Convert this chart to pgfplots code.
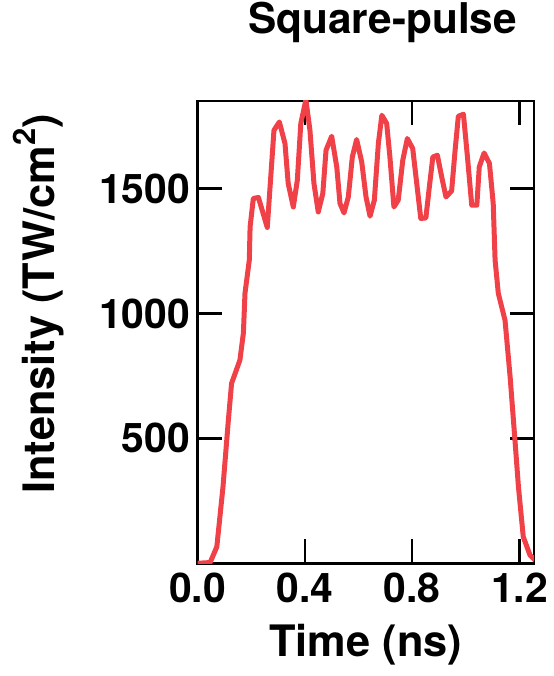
\documentclass[border=0pt]{standalone}
\usepackage{fontspec}
\setmainfont{TeX Gyre Heros}
\usepackage{pgfplots}
\pgfplotsset{compat=1.18}
\definecolor{pulsered}{RGB}{240,64,72}
\begin{document}
\begin{tikzpicture}
\path[use as bounding box] (0,0) rectangle (554bp,676bp);
\begin{axis}[
  at={(197.5bp,112.7bp)}, anchor=south west,
  scale only axis, width=336.5bp, height=462.3bp,
  xmin=0, xmax=1.254, ymin=0, ymax=1850,
  xtick={0,0.4,0.8,1.2}, ytick={500,1000,1500},
  xticklabels={0.0,0.4,0.8,1.2},
  yticklabels={500,1000,1500},
  tick align=inside, major tick length=24bp,
  every tick/.style={line width=2.5bp, black},
  axis line style={line width=2.5bp},
  tick label style={font=\fontsize{41}{45}\selectfont\bfseries},
  /pgf/number format/assume math mode=true,
  xticklabel style={yshift=-6bp},
  yticklabel style={xshift=-4bp},
  xlabel={Time (ns)},
  ylabel={Intensity (TW/cm\raisebox{0.42em}{\fontsize{31}{31}\selectfont 2})},
  label style={font=\fontsize{43.5}{47}\selectfont\bfseries},
  xlabel style={at={(axis description cs:0.5,-0.202)}, anchor=base},
  ylabel style={at={(axis description cs:-0.4725,0.561)}, anchor=center},
  title={Square-pulse},
  title style={font=\fontsize{42.5}{46}\selectfont\bfseries, at={(axis description cs:0.55,1.132)}, anchor=base},
  clip=true,
]
\addplot[pulsered, line width=5bp, line join=round] coordinates {
(0,0) (0.047,3) (0.072,66) (0.095,306) (0.115,573) (0.127,720)
(0.158,813) (0.171,921) (0.177,1081) (0.193,1213) (0.196,1346)
(0.208,1460) (0.227,1464) (0.260,1344) (0.285,1733) (0.305,1766)
(0.326,1680) (0.338,1520) (0.357,1426) (0.372,1533) (0.385,1760)
(0.404,1855) (0.419,1733) (0.434,1520) (0.450,1406) (0.467,1480)
(0.479,1653) (0.500,1709) (0.519,1586) (0.531,1440) (0.546,1402)
(0.562,1466) (0.577,1626) (0.593,1696) (0.612,1606) (0.628,1466)
(0.643,1389) (0.659,1453) (0.674,1680) (0.687,1793) (0.705,1760)
(0.717,1626) (0.732,1426) (0.748,1453) (0.765,1613) (0.782,1700)
(0.802,1660) (0.817,1520) (0.832,1380) (0.851,1382) (0.864,1506)
(0.877,1626) (0.894,1633) (0.910,1546) (0.926,1466) (0.947,1490)
(0.960,1653) (0.972,1789) (0.991,1797) (1.006,1626) (1.022,1433)
(1.041,1433) (1.050,1586) (1.068,1642) (1.088,1600) (1.102,1440)
(1.109,1213) (1.121,1080) (1.146,973) (1.165,746) (1.183,493)
(1.196,306) (1.214,106) (1.239,33) (1.258,13)
};
\end{axis}
\end{tikzpicture}
\end{document}
